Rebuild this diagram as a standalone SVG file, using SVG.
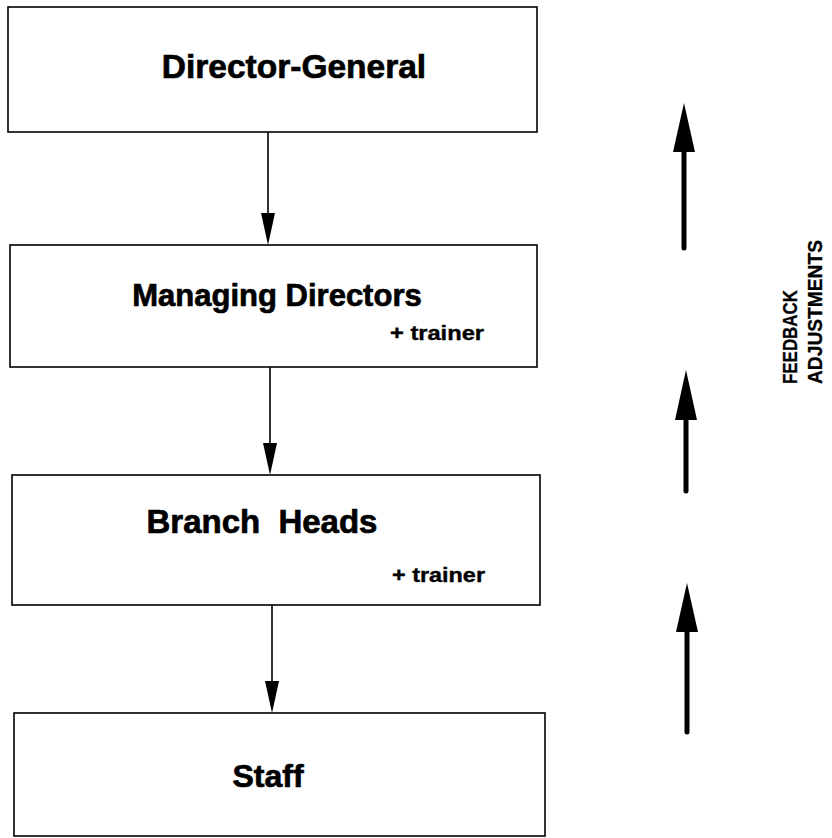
<svg xmlns="http://www.w3.org/2000/svg" width="832" height="838" viewBox="0 0 832 838">
<style>
.box{fill:#fff;stroke:#000;stroke-width:1.6}
.lbl{font-family:"Liberation Sans",Arial,sans-serif;font-weight:bold;font-size:32px;fill:#000;stroke:#000;stroke-width:0.7}
.sub{font-family:"Liberation Sans",Arial,sans-serif;font-weight:bold;font-size:21px;fill:#000;stroke:#000;stroke-width:0.4}
.side{font-family:"Liberation Sans",Arial,sans-serif;font-weight:bold;font-size:20px;fill:#000;stroke:#000;stroke-width:0.3}
.conn{stroke:#000;stroke-width:1.6;fill:none}
.fb{stroke:#000;stroke-width:5;stroke-linecap:round;fill:none}
</style>
<rect width="832" height="838" fill="#fff"/>
<g id="director-general">
<rect class="box" x="8" y="7" width="529" height="125"/>
<text class="lbl" x="294" y="78" text-anchor="middle" style="font-size:33.5px">Director-General</text>
</g>
<g id="managing-directors">
<rect class="box" x="10" y="245" width="527" height="122"/>
<text class="lbl" x="277" y="306" text-anchor="middle" style="font-size:31px">Managing Directors</text>
<text class="sub" x="390" y="340" textLength="94" lengthAdjust="spacingAndGlyphs">+ trainer</text>
</g>
<g id="branch-heads">
<rect class="box" x="12" y="475" width="528" height="130"/>
<text class="lbl" x="262" y="533" text-anchor="middle" word-spacing="9" style="font-size:33px">Branch Heads</text>
<text class="sub" x="392" y="582" textLength="93" lengthAdjust="spacingAndGlyphs">+ trainer</text>
</g>
<g id="staff">
<rect class="box" x="14" y="713" width="531" height="123"/>
<text class="lbl" x="268" y="787" text-anchor="middle">Staff</text>
</g>
<g id="connectors">
<line class="conn" x1="268" y1="132" x2="268" y2="213"/>
<path d="M261,213 L275,213 L268,245 Z" fill="#000"/>
<line class="conn" x1="270" y1="367" x2="270" y2="443"/>
<path d="M263,443 L277,443 L270,475 Z" fill="#000"/>
<line class="conn" x1="272" y1="605" x2="272" y2="681"/>
<path d="M265,681 L279,681 L272,713 Z" fill="#000"/>
</g>
<g id="feedback">
<line class="fb" x1="684" y1="145" x2="684" y2="248"/>
<path d="M684,103 L695,152 L673,152 Z" fill="#000"/>
<line class="fb" x1="686" y1="412" x2="686" y2="491"/>
<path d="M686,370 L697,420 L675,420 Z" fill="#000"/>
<line class="fb" x1="687" y1="625" x2="687" y2="732"/>
<path d="M687,583 L698,632 L676,632 Z" fill="#000"/>
<text class="side" transform="translate(797,384) rotate(-90)" textLength="94" lengthAdjust="spacingAndGlyphs">FEEDBACK</text>
<text class="side" transform="translate(822,384) rotate(-90)" textLength="144" lengthAdjust="spacingAndGlyphs">ADJUSTMENTS</text>
</g>
</svg>
